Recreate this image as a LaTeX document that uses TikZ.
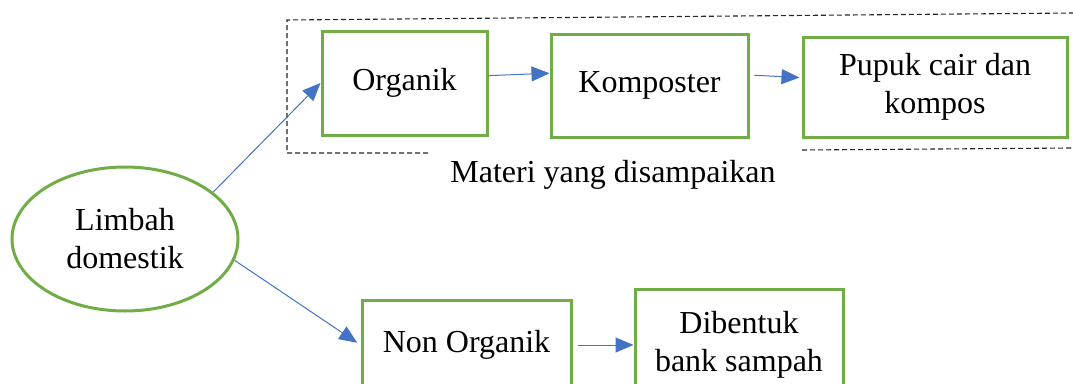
\documentclass[tikz,border=0pt]{standalone}
\usepackage{fontspec}
\setmainfont{Liberation Serif}
\usepackage{tikz}
\usetikzlibrary{shapes.geometric, arrows.meta}
\definecolor{boxgreen}{HTML}{70AD47}
\definecolor{arrowblue}{HTML}{4472C4}

\begin{document}
\begin{tikzpicture}[x=1pt, y=-1pt]
	\tikzstyle{waste} = [ellipse, minimum width=226pt, minimum height=144pt,
	text centered, align=center, draw=boxgreen, line width=3pt, inner sep=0pt]
	\tikzstyle{stage} = [rectangle, text centered, align=center,
	draw=boxgreen, line width=3pt, inner sep=0pt]
	\tikzstyle{arrow} = [draw=arrowblue, line width=1pt,
	-{Triangle[length=18pt, width=15pt]}]
	\tikzstyle{frame} = [black!85, line width=1.1pt, dash pattern=on 5pt off 3pt]
	\useasboundingbox (0,0) rectangle (1073,383);
	\clip (0,0) rectangle (1073,383);
	\fontsize{32}{38}\selectfont
	% nodes
	\node (limbah) [waste] at (125,239) {Limbah\\domestik};
	\node (organik) [stage, minimum width=165pt, minimum height=104pt] at (404.5,83) {Organik};
	\node (komposter) [stage, minimum width=197pt, minimum height=103pt] at (649.5,85.5) {Komposter};
	\node (pupuk) [stage, minimum width=264pt, minimum height=100pt] at (935,87) {Pupuk cair dan\\kompos};
	\node (nonorganik) [stage, minimum width=209pt, minimum height=90pt] at (466.5,345) {Non Organik};
	\node (bank) [stage, minimum width=208pt, minimum height=112pt] at (739,345) {Dibentuk\\bank sampah};
	\node (materi) at (613,175) {Materi yang disampaikan};
	% dashed frame
	\draw [frame] (428,153) -- (287,153) -- (287,20) -- (1073,13);
	\draw [frame] (802,150) -- (1073,148);
	% arrows
	\draw [arrow] (limbah.28) -- (organik.west);
	\draw [arrow] (organik.5.5) -- (komposter.173);
	\draw [arrow, shorten <=5pt, shorten >=2pt] (komposter.6) -- (pupuk.176);
	\draw [arrow, shorten >=4pt] (limbah.-11) -- (nonorganik.west);
	\draw [arrow, shorten <=5pt] (nonorganik.east) -- (bank.west);
\end{tikzpicture}
\end{document}
